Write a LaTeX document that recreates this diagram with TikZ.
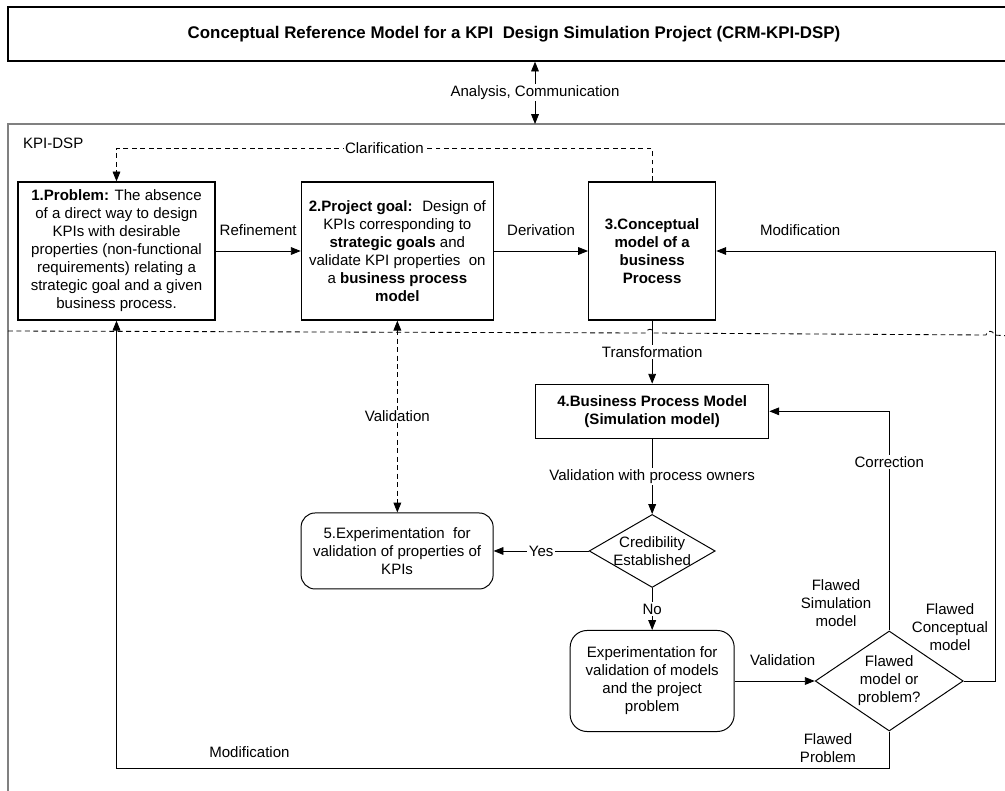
\documentclass[tikz,border=0pt]{standalone}
\usepackage{fontspec}
\setmainfont{Liberation Sans}
\usetikzlibrary{arrows.meta,positioning,shapes.geometric}

\tikzset{
  block/.style={draw, line width=0.9pt, align=center, inner sep=0pt},
  softblock/.style={draw, line width=0.7pt, rounded corners=10pt, align=center, inner sep=0pt},
  decision/.style={draw, diamond, line width=0.7pt, inner sep=0pt},
  dashline/.style={dash pattern=on 3.5pt off 2.5pt},
  lbl/.style={fill=white, inner sep=1pt},
  boldfont/.style={font=\fontsize{10.7pt}{12.8pt}\selectfont\bfseries}
}

\begin{document}
\begin{tikzpicture}[x=0.025cm, y=-0.025cm, >={Triangle[length=7pt,width=5.5pt]},
    font=\fontsize{10.7pt}{12.8pt}\selectfont, line width=0.6pt]
\useasboundingbox (0,0) rectangle (1005,790);
\clip (0,0) rectangle (1005,790);

% outer level
\node[draw, line width=0.9pt, minimum width=25.3cm, minimum height=1.35cm,
    font=\fontsize{12pt}{14pt}\selectfont\bfseries] (crm) at (514,34)
    {Conceptual Reference Model for a KPI~ Design Simulation Project (CRM-KPI-DSP)};
\coordinate (dsptop) at (535,124);
\draw[gray, line width=1pt] (8,800) |- (1020,124);
\node[anchor=west] (dsp) at (18,143) {KPI-DSP};
\draw[<->] (crm.south -| dsptop) -- node[lbl] {Analysis, Communication} (dsptop);

% first row
\node[block, minimum width=4.925cm, minimum height=3.45cm] (problem) at (116.5,251)
    {\textbf{1.Problem:} The absence\\of a direct way to design\\KPIs with desirable\\properties (non-functional\\requirements) relating a\\strategic goal and a given\\business process.};
\node[block, minimum width=4.8cm, minimum height=3.45cm] (goal) [right=2.125cm of problem]
    {\textbf{2.Project goal:}~ Design of\\KPIs corresponding to\\\textbf{strategic goals} and\\validate KPI properties ~on\\a \textbf{business process}\\\textbf{model}};
\node[block, boldfont, minimum width=3.175cm, minimum height=3.45cm] (concept) [right=2.35cm of goal]
    {3.Conceptual\\model of a\\business\\Process};

% separator
\draw[dashline] (8,331) -- (646,333) .. controls (646,328) and (654,328) .. (654,333)
    -- (986,335) .. controls (986,330) and (994,330) .. (994,335) -- (1010,336);

% simulation part
\node[block, boldfont, minimum width=5.825cm, minimum height=1.35cm] (bpm) [below=1.575cm of concept]
    {4.Business Process Model\\(Simulation model)};
\node[decision, minimum width=3.15cm, minimum height=1.825cm,
    label={[align=center]center:Credibility\\Established}] (cred) [below=1.875cm of bpm] {};
\node[softblock, minimum width=4.8cm, minimum height=1.9cm] (kpiexp) [left=2.375cm of cred]
    {5.Experimentation ~for\\validation of properties of\\KPIs};
\node[softblock, rounded corners=12pt, minimum width=4.1cm, minimum height=2.525cm] (valexp) [below=1.05cm of cred]
    {Experimentation for\\validation of models\\and the project\\problem};
\node[decision, minimum width=3.7cm, minimum height=2.5cm,
    label={[align=center]center:Flawed\\model or\\problem?}] (flawed) [right=2cm of valexp] {};

\node[align=center] (fsim) at (836,603) {Flawed\\Simulation\\model};
\node[align=center] (fcon) at (950,627) {Flawed\\Conceptual\\model};
\node[align=center] (fprob) at (828,748) {Flawed\\Problem};

% connectors
\path[->] (problem) edge node[above=7pt] {Refinement} (goal)
          (goal) edge node[above=7pt] {Derivation} (concept)
          (concept) edge node[lbl] {Transformation} (bpm)
          (bpm) edge node[lbl] {Validation with process owners} (cred)
          (cred) edge node[lbl] {Yes} (kpiexp)
          (cred) edge node[lbl] {No} (valexp)
          (valexp) edge node[above=7pt, pos=0.6] {Validation} (flawed);
\draw[<->, dashline] (goal.south) -- node[lbl] {Validation} (goal.south |- kpiexp.north);
\draw[->, dashline] (concept.north) -- ++(0,-33) -| node[lbl, pos=0.25] {Clarification} (problem.north);
\draw[->] (flawed.north) |- node[lbl, pos=0.385] {Correction} (bpm.east);
\draw[->] (flawed.east) -- ++(32,0) |- node[above=7pt, pos=0.85] {Modification} (concept.east);
\draw[->] (flawed.south) -- ++(0,37) -| node[above=4pt, pos=0.414] {Modification} (problem.south);
\end{tikzpicture}
\end{document}
